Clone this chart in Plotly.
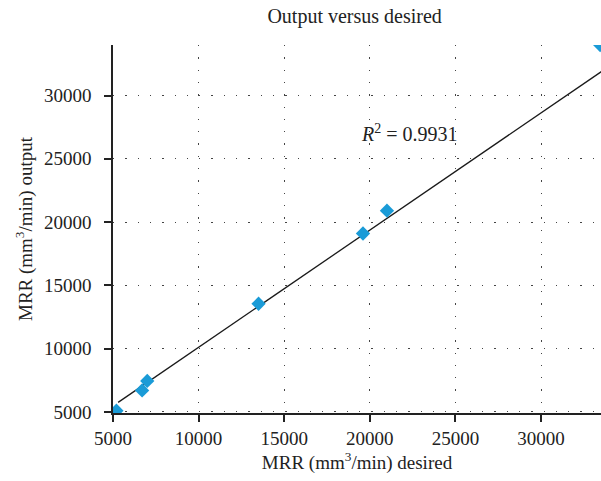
import plotly.graph_objects as go

# Data
desired = [5200, 6700, 7000, 13500, 19600, 21000, 33450]
output = [5100, 6700, 7450, 13550, 19100, 20900, 33990]
trend_x = [5300, 33600]
trend_y = [5760, 31960]
x_ticks = [5000, 10000, 15000, 20000, 25000, 30000]
y_ticks = [5000, 10000, 15000, 20000, 25000, 30000]

FONT = "Liberation Serif, Times New Roman, serif"

fig = go.Figure()
fig.add_trace(go.Scatter(x=trend_x, y=trend_y, mode="lines",
                         line=dict(color="#1a1a1a", width=1.3),
                         showlegend=False, hoverinfo="skip"))
fig.add_trace(go.Scatter(x=desired, y=output, mode="markers",
                         marker=dict(symbol="diamond", size=11, color="#1a9bd7",
                                     line=dict(width=0)),
                         showlegend=False))

axis_common = dict(
    showline=True, linecolor="#222", linewidth=1.5,
    ticks="outside", ticklen=7, tickcolor="#222", tickwidth=1.5,
    showgrid=True, gridcolor="#444", gridwidth=1.3, griddash="1.3px,11px",
    zeroline=False,
    tickfont=dict(family=FONT, size=19, color="#222"),
)

fig.update_xaxes(range=[5000, 33500], tickvals=x_ticks,
                 ticktext=[str(v) for v in x_ticks],
                 title=dict(text="MRR (mm<sup>3</sup>/min) desired",
                            font=dict(family=FONT, size=19, color="#222"),
                            standoff=8),
                 **axis_common)
fig.update_yaxes(range=[4920, 33990], tickvals=y_ticks,
                 ticktext=[str(v) for v in y_ticks],
                 ticklabelstandoff=9,
                 title=dict(text="MRR (mm<sup>3</sup>/min) output",
                            font=dict(family=FONT, size=19, color="#222"),
                            standoff=6),
                 **axis_common)

fig.add_annotation(x=22300, y=27040, xref="x", yref="y",
                   text="<i>R</i><sup>2</sup> = 0.9931", showarrow=False,
                   font=dict(family=FONT, size=20, color="#222"))

fig.update_layout(
    width=601, height=481,
    margin=dict(l=113, r=0, t=45, b=68),
    plot_bgcolor="white", paper_bgcolor="white",
    title=dict(text="Output versus desired", x=0.59, xanchor="center",
               y=0.967, yanchor="middle",
               font=dict(family=FONT, size=20, color="#222")),
)

fig.write_html("out.html")
